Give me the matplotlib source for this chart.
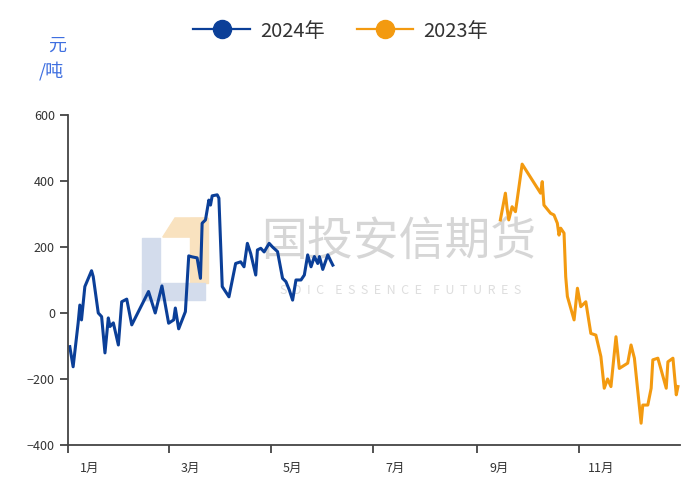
import matplotlib
matplotlib.use("Agg")
import matplotlib.pyplot as plt
from matplotlib.patches import Rectangle, Polygon
import pandas as pd

plt.rcParams['font.family'] = ['Noto Sans CJK SC', 'DejaVu Sans']

# 2024 series (month-day, value)
days_2024 = ["01-02", "01-04", "01-07", "01-08", "01-09", "01-11", "01-15", "01-16",
             "01-19", "01-21", "01-23", "01-25", "01-26", "01-28", "01-31", "02-02",
             "02-05", "02-08", "02-18", "02-22", "02-26", "03-01", "03-04", "03-05",
             "03-07", "03-11", "03-13", "03-15", "03-18", "03-20", "03-21", "03-23",
             "03-25", "03-26", "03-27", "03-30", "03-31", "04-02", "04-06", "04-10",
             "04-13", "04-15", "04-17", "04-19", "04-22", "04-23", "04-25", "04-27",
             "04-30", "05-02", "05-05", "05-08", "05-10", "05-12", "05-14", "05-16",
             "05-19", "05-21", "05-23", "05-25", "05-27", "05-29", "05-30", "06-01",
             "06-04", "06-06", "06-07"]
vals_2024 = [-102, -163, -30, 24, -21, 80, 128, 110,
             0, -11, -121, -15, -41, -30, -97, 34,
             42, -36, 65, 0, 82, -31, -21, 15,
             -48, 4, 173, 170, 167, 105, 272, 282,
             342, 327, 355, 358, 348, 80, 49, 150,
             155, 140, 211, 180, 115, 191, 196, 185,
             211, 200, 186, 105, 95, 70, 39, 100,
             100, 115, 176, 140, 171, 150, 171, 132,
             176, 155, 145]

# 2023 series (month-day, value)
days_2023 = ["09-15", "09-18", "09-19", "09-20", "09-22", "09-24", "09-25", "09-28",
             "10-09", "10-10", "10-11", "10-15", "10-17", "10-19", "10-20", "10-21",
             "10-23", "10-24", "10-25", "10-29", "10-31", "11-02", "11-05", "11-08",
             "11-11", "11-14", "11-16", "11-18", "11-20", "11-23", "11-25", "11-30",
             "12-02", "12-04", "12-08", "12-09", "12-12", "12-14", "12-15", "12-18",
             "12-20", "12-23", "12-24", "12-27", "12-29", "12-30"]
vals_2023 = [282, 363, 317, 282, 322, 307, 342, 451,
             363, 398, 327, 302, 297, 272, 236, 257,
             242, 110, 50, -21, 75, 19, 34, -62,
             -67, -132, -228, -200, -223, -72, -168, -152,
             -97, -137, -334, -279, -279, -228, -142, -137,
             -173, -228, -148, -137, -248, -223]

month_ticks = ["01-01", "03-01", "05-01", "07-01", "09-01", "11-01"]
month_labels = ["1月", "3月", "5月", "7月", "9月", "11月"]


def to_dates(md):
    return pd.to_datetime(["2024-" + d for d in md])


blue = "#0b3f98"
orange = "#f39a10"

fig = plt.figure(figsize=(6.81, 4.79), dpi=100)
ax = fig.add_axes([0.1, 0.071, 0.898, 0.689])
ax.set_zorder(2)
ax.patch.set_alpha(0)

# watermark logo + text
wm_blue = "#d3dcec"
wm_orange = "#f9e2bf"
fig.patches.append(Polygon([(0.239, 0.505), (0.257, 0.545), (0.305, 0.545), (0.305, 0.505)],
                           closed=True, transform=fig.transFigure, color=wm_orange, zorder=0))
fig.patches.append(Rectangle((0.279, 0.409), 0.026, 0.136, transform=fig.transFigure,
                             color=wm_orange, zorder=0))
fig.patches.append(Rectangle((0.2085, 0.374), 0.027, 0.129, transform=fig.transFigure,
                             color=wm_blue, zorder=0))
fig.patches.append(Rectangle((0.2085, 0.374), 0.093, 0.035, transform=fig.transFigure,
                             color=wm_blue, zorder=0))
fig.text(0.585, 0.495, "国投安信期货", fontsize=33, color="#d6d6d6", ha="center", va="center",
         zorder=0)
fig.text(0.588, 0.393, "S  D  I  C    E  S  S  E  N  C  E    F  U  T  U  R  E  S", fontsize=9,
         color="#dedede", ha="center", va="center", zorder=0)

ax.plot(to_dates(days_2024), vals_2024, color=blue, linewidth=2.2, solid_joinstyle="round")
ax.plot(to_dates(days_2023), vals_2023, color=orange, linewidth=2.2, solid_joinstyle="round")

ax.set_xlim(pd.Timestamp("2024-01-01"), pd.Timestamp("2024-12-31"))
ax.set_ylim(-400, 600)
ax.set_yticks([-400, -200, 0, 200, 400, 600])

# major ticks at month starts, labels shifted right on minor ticks
ax.set_xticks(to_dates(month_ticks))
ax.set_xticklabels([])
ax.set_xticks(to_dates(month_ticks) + pd.Timedelta(days=13), minor=True)
ax.set_xticklabels(month_labels, minor=True)
ax.tick_params(axis="x", which="minor", length=0, pad=12, labelsize=9, labelcolor="#333333")

for s in ["top", "right"]:
    ax.spines[s].set_visible(False)
for s in ["left", "bottom"]:
    ax.spines[s].set_color("#444444")
    ax.spines[s].set_linewidth(1.3)
ax.tick_params(axis="both", which="major", colors="#444444", labelsize=9, length=6, width=1.3)
ax.tick_params(axis="y", labelcolor="#333333")

# legend with circle markers
h1, = ax.plot([], [], color=blue, linewidth=1.6, marker="o", markersize=13)
h2, = ax.plot([], [], color=orange, linewidth=1.6, marker="o", markersize=13)
fig.legend([h1, h2], ["2024年", "2023年"], loc="upper center", bbox_to_anchor=(0.5, 0.995),
           ncol=2, frameon=False, fontsize=14.5, handlelength=2.8, handletextpad=0.5,
           columnspacing=1.6, labelcolor="#333333")

fig.text(0.084, 0.905, "元", color="#3f6fe0", fontsize=13, ha="center", va="center")
fig.text(0.076, 0.852, "/吨", color="#3f6fe0", fontsize=13, ha="center", va="center")

fig.savefig("out.png", dpi=100)
